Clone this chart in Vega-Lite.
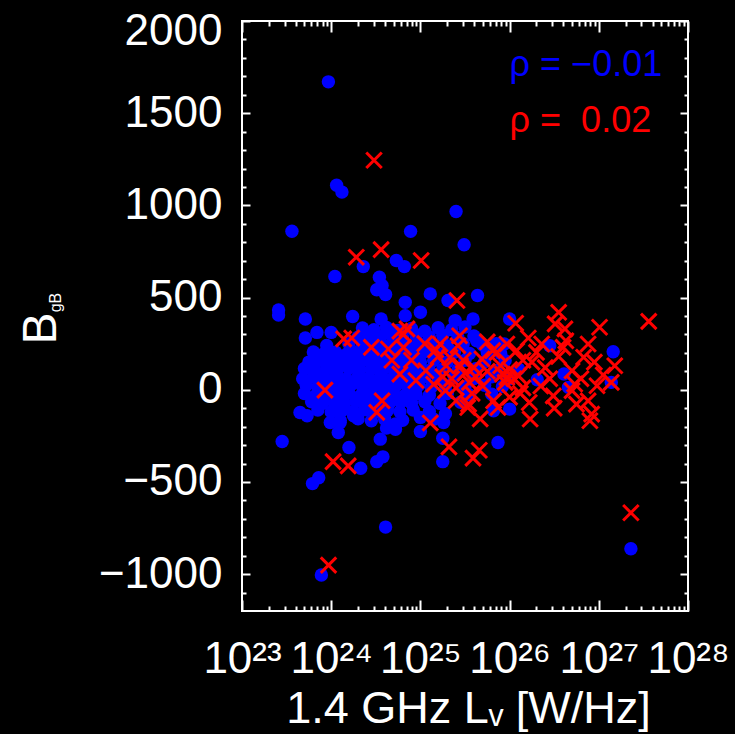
{
"$schema": "https://vega.github.io/schema/vega-lite/v6.json",
"width": 446,
"height": 590,
"autosize": {"type": "none"},
"padding": {"left": 242, "top": 21, "right": 47, "bottom": 123},
"background": "#000000",
"config": {
  "view": {"stroke": "#ffffff", "strokeWidth": 2},
  "axis": {"domain": false, "grid": false, "labelColor": "#ffffff", "tickColor": "#ffffff", "titleColor": "#ffffff", "tickWidth": 2, "labelFont": "Liberation Sans", "titleFont": "Liberation Sans", "titleFontWeight": "normal", "zindex": 1}
},
"datasets": {
  "blue": [
    {"L":9.3e23,"B":1670},{"L":1.15e24,"B":1109},{"L":1.32e24,"B":1072},{"L":3.63e23,"B":860},{"L":7.76e24,"B":859},{"L":2.51e25,"B":967},{"L":3.09e25,"B":786},{"L":5.37e24,"B":701},{"L":6.61e24,"B":668},{"L":2.29e24,"B":668},{"L":1.1e24,"B":614},{"L":3.47e24,"B":610},{"L":3.72e24,"B":565},{"L":3.24e24,"B":542},{"L":4.07e24,"B":516},{"L":2.57e23,"B":433},{"L":2.57e23,"B":405},{"L":5.13e23,"B":384},{"L":5.13e23,"B":281},{"L":6.92e23,"B":311},{"L":1.0e24,"B":311},{"L":1.74e24,"B":397},{"L":3.63e24,"B":384},{"L":6.76e24,"B":474},{"L":6.76e24,"B":402},{"L":1.0e25,"B":420},{"L":1.29e25,"B":520},{"L":2.04e25,"B":484},{"L":4.37e25,"B":511},{"L":2.45e25,"B":375},{"L":3.89e25,"B":384},{"L":4.47e23,"B":-123},{"L":5.37e23,"B":-141},{"L":9.77e23,"B":-178},{"L":1.78e24,"B":-141},{"L":5.25e24,"B":-186},{"L":1.0e25,"B":-150},{"L":1.45e27,"B":206},{"L":1.38e27,"B":40},{"L":4.07e26,"B":85},{"L":4.57e26,"B":13},{"L":2.04e26,"B":54},{"L":1.0e26,"B":-105},{"L":1.0e26,"B":384},{"L":8.71e25,"B":248},{"L":2.82e26,"B":239},{"L":4.27e25,"B":266},{"L":1.82e25,"B":-178},{"L":6.61e25,"B":-114},{"L":2.82e23,"B":-281},{"L":6.17e23,"B":-509},{"L":7.24e23,"B":-477},{"L":1.58e24,"B":-313},{"L":2.14e24,"B":-426},{"L":3.24e24,"B":-390},{"L":3.8e24,"B":-364},{"L":3.55e24,"B":-268},{"L":4.17e24,"B":-208},{"L":5.25e24,"B":-214},{"L":1.0e25,"B":-226},{"L":1.78e25,"B":-263},{"L":1.78e25,"B":-390},{"L":7.41e25,"B":-286},{"L":1.2e24,"B":-232},{"L":1.26e24,"B":-178},{"L":4.07e24,"B":-745},{"L":7.76e23,"B":-1005},{"L":2.29e27,"B":-862},{"L":1.86e24,"B":-1240},{"L":1.91e25,"B":-130},
    {"L":2.24e24,"B":335},{"L":3.02e24,"B":325},{"L":4.17e24,"B":338},{"L":5.62e24,"B":322},{"L":7.94e24,"B":332},{"L":1.12e25,"B":318},{"L":1.58e25,"B":336},{"L":2.24e25,"B":326},{"L":3.16e25,"B":340},
    {"L":2.0e24,"B":285},{"L":2.63e24,"B":296},{"L":3.55e24,"B":288},{"L":4.79e24,"B":292},{"L":6.31e24,"B":283},{"L":8.91e24,"B":297},{"L":1.26e25,"B":287},{"L":1.78e25,"B":294},{"L":2.63e25,"B":284},{"L":3.98e25,"B":292},
    {"L":8.91e23,"B":240},{"L":1.58e24,"B":250},{"L":2.24e24,"B":243},{"L":2.95e24,"B":252},{"L":3.98e24,"B":238},{"L":5.25e24,"B":247},{"L":7.08e24,"B":241},{"L":9.55e24,"B":252},{"L":1.32e25,"B":244},{"L":2.0e25,"B":238},{"L":3.02e25,"B":250},{"L":5.01e25,"B":243},{"L":7.08e25,"B":250},
    {"L":6.31e23,"B":205},{"L":8.32e23,"B":196},{"L":1.12e24,"B":203},{"L":1.51e24,"B":195},{"L":2.0e24,"B":206},{"L":2.63e24,"B":198},{"L":3.55e24,"B":204},{"L":4.68e24,"B":194},{"L":6.31e24,"B":202},{"L":8.32e24,"B":197},{"L":1.12e25,"B":206},{"L":1.58e25,"B":195},{"L":2.4e25,"B":203},{"L":3.55e25,"B":197},{"L":5.62e25,"B":205},{"L":7.94e25,"B":196},
    {"L":5.62e23,"B":150},{"L":7.59e23,"B":160},{"L":1.0e24,"B":152},{"L":1.32e24,"B":158},{"L":1.78e24,"B":150},{"L":2.34e24,"B":161},{"L":3.16e24,"B":153},{"L":4.17e24,"B":157},{"L":5.62e24,"B":149},{"L":7.59e24,"B":160},{"L":1.0e25,"B":151},{"L":1.41e25,"B":158},{"L":2.0e25,"B":150},{"L":3.16e25,"B":160},{"L":5.25e25,"B":152},{"L":8.91e25,"B":158},
    {"L":5.01e23,"B":115},{"L":6.61e23,"B":105},{"L":8.91e23,"B":112},{"L":1.17e24,"B":104},{"L":1.58e24,"B":116},{"L":2.09e24,"B":108},{"L":2.82e24,"B":113},{"L":3.72e24,"B":103},{"L":5.01e24,"B":111},{"L":6.76e24,"B":106},{"L":8.91e24,"B":115},{"L":1.26e25,"B":104},{"L":1.78e25,"B":112},{"L":2.63e25,"B":108},{"L":4.17e25,"B":114},{"L":7.08e25,"B":105},{"L":1.26e26,"B":112},
    {"L":4.79e23,"B":60},{"L":6.31e23,"B":70},{"L":8.32e23,"B":62},{"L":1.12e24,"B":68},{"L":1.48e24,"B":59},{"L":2.0e24,"B":71},{"L":2.63e24,"B":63},{"L":3.55e24,"B":67},{"L":4.79e24,"B":60},{"L":6.31e24,"B":69},{"L":8.51e24,"B":61},{"L":1.12e25,"B":70},{"L":1.58e25,"B":62},{"L":2.4e25,"B":68},{"L":3.98e25,"B":61},{"L":6.31e25,"B":70},{"L":1.0e26,"B":60},
    {"L":5.25e23,"B":25},{"L":7.08e23,"B":15},{"L":9.55e23,"B":22},{"L":1.26e24,"B":14},{"L":1.66e24,"B":26},{"L":2.24e24,"B":18},{"L":3.02e24,"B":23},{"L":3.98e24,"B":13},{"L":5.37e24,"B":24},{"L":7.24e24,"B":16},{"L":9.55e24,"B":25},{"L":1.32e25,"B":14},{"L":1.91e25,"B":22},{"L":3.16e25,"B":16},{"L":5.25e25,"B":24},{"L":8.32e25,"B":18},
    {"L":5.01e23,"B":-20},{"L":6.76e23,"B":-30},{"L":8.91e23,"B":-22},{"L":1.2e24,"B":-28},{"L":1.58e24,"B":-19},{"L":2.14e24,"B":-31},{"L":2.82e24,"B":-24},{"L":3.8e24,"B":-27},{"L":5.01e24,"B":-20},{"L":6.76e24,"B":-29},{"L":8.91e24,"B":-23},{"L":1.26e25,"B":-30},{"L":2.0e25,"B":-21},{"L":3.55e25,"B":-28},{"L":6.31e25,"B":-24},
    {"L":6.03e23,"B":-65},{"L":7.94e23,"B":-75},{"L":1.07e24,"B":-68},{"L":1.41e24,"B":-74},{"L":1.91e24,"B":-64},{"L":2.51e24,"B":-72},{"L":3.31e24,"B":-66},{"L":4.47e24,"B":-75},{"L":6.03e24,"B":-67},{"L":7.94e24,"B":-73},{"L":1.12e25,"B":-65},{"L":1.66e25,"B":-74},{"L":2.82e25,"B":-68},
    {"L":7.08e23,"B":-110},{"L":1.0e24,"B":-120},{"L":1.32e24,"B":-112},{"L":1.78e24,"B":-118},{"L":2.4e24,"B":-109},{"L":3.16e24,"B":-121},{"L":4.27e24,"B":-113},{"L":5.89e24,"B":-119},{"L":8.32e24,"B":-110},{"L":1.26e25,"B":-118},
    {"L":1.26e24,"B":-165},{"L":2.0e24,"B":-158},{"L":2.82e24,"B":-168},{"L":3.98e24,"B":-160},{"L":6.31e24,"B":-166},{"L":1.41e25,"B":-160}
  ],
  "red": [
    {"L":9.33e23,"B":-951},{"L":1.05e24,"B":-390},{"L":1.55e24,"B":-413},{"L":3.02e24,"B":1245},{"L":1.91e24,"B":719},{"L":3.63e24,"B":760},{"L":1.02e25,"B":701},{"L":2.57e25,"B":484},{"L":7.08e24,"B":330},{"L":5.89e24,"B":318},{"L":6.46e24,"B":300},{"L":1.38e24,"B":276},{"L":1.7e24,"B":281},{"L":4.37e24,"B":221},{"L":6.46e24,"B":230},{"L":1.48e25,"B":216},{"L":2.75e25,"B":293},{"L":2.63e25,"B":239},{"L":5.89e24,"B":85},{"L":1.15e25,"B":103},{"L":1.95e25,"B":130},{"L":8.51e23,"B":-2},{"L":3.72e24,"B":-60},{"L":3.24e24,"B":-123},{"L":1.29e25,"B":-180},{"L":1.91e25,"B":-5},{"L":4.68e25,"B":-158},{"L":3.39e25,"B":-96},{"L":6.46e25,"B":212},
    {"L":3.55e26,"B":420},{"L":3.24e26,"B":357},{"L":4.17e26,"B":330},{"L":4.27e26,"B":266},{"L":1.02e27,"B":339},{"L":3.63e27,"B":371},{"L":1.17e26,"B":361},{"L":1.62e26,"B":281},{"L":2.29e26,"B":248},{"L":2.0e26,"B":203},{"L":7.59e26,"B":248},{"L":6.76e26,"B":176},{"L":1.51e27,"B":130},{"L":1.38e27,"B":40},{"L":9.55e26,"B":22},{"L":5.01e26,"B":103},{"L":5.37e26,"B":31},{"L":5.01e26,"B":-5},{"L":7.59e26,"B":-60},{"L":8.32e26,"B":-132},{"L":5.62e26,"B":-78},{"L":3.09e26,"B":-33},{"L":1.66e26,"B":-69},{"L":1.7e26,"B":-159},{"L":7.41e25,"B":-96},{"L":3.47e25,"B":-78},{"L":6.61e25,"B":-60},
    {"L":9.33e25,"B":67},{"L":8.32e25,"B":85},{"L":1.12e26,"B":60},{"L":8.91e25,"B":40},{"L":1.0e26,"B":110},{"L":1.26e26,"B":75},{"L":7.24e25,"B":203},{"L":4.9e25,"B":167},{"L":9.33e25,"B":248},{"L":1.2e26,"B":212},{"L":1.66e25,"B":248},{"L":2.09e25,"B":-310},{"L":3.89e25,"B":-371},{"L":4.57e25,"B":-328},{"L":2.29e27,"B":-667},{"L":7.94e26,"B":-168},
    {"L":2.24e25,"B":60},{"L":2.82e25,"B":130},{"L":3.16e25,"B":90},{"L":3.55e25,"B":40},{"L":2.51e25,"B":10},{"L":3.98e25,"B":120},{"L":3.02e25,"B":160},{"L":4.17e25,"B":70},{"L":5.01e25,"B":20},{"L":5.62e25,"B":100},{"L":2.14e25,"B":175},{"L":1.78e25,"B":70},{"L":3.8e25,"B":-20},
    {"L":4.79e24,"B":160},{"L":8.91e24,"B":50},{"L":1.41e25,"B":30},{"L":2.82e24,"B":230},
    {"L":1.78e26,"B":150},{"L":2.51e26,"B":120},{"L":3.55e26,"B":180},{"L":2.82e26,"B":60},{"L":2.24e26,"B":20},{"L":3.98e26,"B":230},{"L":1.41e26,"B":10},{"L":3.16e26,"B":-100},
    {"L":1.12e27,"B":80},{"L":8.91e26,"B":150},{"L":6.31e26,"B":60},{"L":1.32e26,"B":-20},
    {"L":7.94e25,"B":130},{"L":1.41e26,"B":160},{"L":5.62e25,"B":260},{"L":1.0e26,"B":-40},{"L":2.51e25,"B":-60},{"L":1.58e25,"B":180},{"L":1.12e25,"B":250},{"L":7.94e24,"B":160}
  ],
  "rhoBlue": [{"L":1.0e26,"B":1700,"label":"ρ = −0.01"}],
  "rhoRed": [{"L":1.0e26,"B":1400,"label":"ρ = \u00a00.02"}]
},
"layer": [
  {
    "data": {"name": "blue"},
    "mark": {"type": "circle", "size": 180, "color": "#0000ff", "opacity": 1, "clip": true},
    "encoding": {
      "x": {"field": "L", "type": "quantitative",
        "scale": {"type": "log", "domain": [1e23, 1e28], "nice": false},
        "axis": {"orient": "bottom", "values": [1e23, 1e24, 1e25, 1e26, 1e27, 1e28], "tickSize": -11,
          "labelExpr": "'10' + ['²³','²⁴','²⁵','²⁶','²⁷','²⁸'][round(log(datum.value)/LN10) - 23]",
          "labelFontSize": 44, "labelPadding": 72, "labelBaseline": "alphabetic", "labelFlush": false, "labelOverlap": false, "labelBound": false,
          "title": "1.4 GHz Lᵥ [W/Hz]", "titleFontSize": 45, "titleX": 226, "titleY": 111, "titleBaseline": "alphabetic", "titleAlign": "center"}},
      "y": {"field": "B", "type": "quantitative",
        "scale": {"domain": [-1200, 2000], "nice": false, "zero": false},
        "axis": {"orient": "left", "values": [-1000, -500, 0, 500, 1000, 1500, 2000], "tickSize": -8, "format": "d",
          "labelFontSize": 44, "labelPadding": 28, "labelFlush": true, "labelFlushOffset": 12, "labelOverlap": false, "labelBound": false,
          "title": "B", "titleFontSize": 48, "titleAngle": -90, "titleX": -187, "titleY": 307, "titleBaseline": "alphabetic", "titleAlign": "center"}}
    }
  },
  {
    "data": {"name": "red"},
    "mark": {"type": "point", "shape": "M-1,-1L1,1M-1,1L1,-1", "filled": false, "color": "#ff0000", "stroke": "#ff0000", "strokeWidth": 3, "size": 240, "opacity": 1, "clip": true},
    "encoding": {
      "x": {"field": "L", "type": "quantitative",
        "scale": {"type": "log", "domain": [1e23, 1e28], "nice": false},
        "axis": {"orient": "bottom", "values": [2e23,3e23,4e23,5e23,6e23,7e23,8e23,9e23,2e24,3e24,4e24,5e24,6e24,7e24,8e24,9e24,2e25,3e25,4e25,5e25,6e25,7e25,8e25,9e25,2e26,3e26,4e26,5e26,6e26,7e26,8e26,9e26,2e27,3e27,4e27,5e27,6e27,7e27,8e27,9e27], "tickSize": -5, "labels": false, "title": null}},
      "y": {"field": "B", "type": "quantitative",
        "scale": {"domain": [-1200, 2000], "nice": false, "zero": false},
        "axis": {"orient": "left", "values": [-1100,-900,-800,-700,-600,-400,-300,-200,-100,100,200,300,400,600,700,800,900,1100,1200,1300,1400,1600,1700,1800,1900], "tickSize": -4, "labels": false,
          "title": "gB", "titleFontSize": 16, "titleAngle": -90, "titleX": -182, "titleY": 281, "titleBaseline": "alphabetic", "titleAlign": "center"}}
    }
  },
  {
    "data": {"name": "rhoBlue"},
    "mark": {"type": "text", "align": "left", "baseline": "alphabetic", "fontSize": 36, "font": "Liberation Sans", "color": "#0000ff"},
    "encoding": {
      "x": {"field": "L", "type": "quantitative",
        "scale": {"type": "log", "domain": [1e23, 1e28], "nice": false},
        "axis": {"orient": "top", "values": [1e23, 1e24, 1e25, 1e26, 1e27, 1e28], "tickSize": -11, "labels": false, "title": null}},
      "y": {"field": "B", "type": "quantitative",
        "scale": {"domain": [-1200, 2000], "nice": false, "zero": false},
        "axis": {"orient": "right", "values": [-1000, -500, 0, 500, 1000, 1500, 2000], "tickSize": -8, "labels": false, "title": null}},
      "text": {"field": "label"}
    }
  },
  {
    "data": {"name": "rhoRed"},
    "mark": {"type": "text", "align": "left", "baseline": "alphabetic", "fontSize": 36, "font": "Liberation Sans", "color": "#ff0000"},
    "encoding": {
      "x": {"field": "L", "type": "quantitative",
        "scale": {"type": "log", "domain": [1e23, 1e28], "nice": false},
        "axis": {"orient": "top", "values": [2e23,3e23,4e23,5e23,6e23,7e23,8e23,9e23,2e24,3e24,4e24,5e24,6e24,7e24,8e24,9e24,2e25,3e25,4e25,5e25,6e25,7e25,8e25,9e25,2e26,3e26,4e26,5e26,6e26,7e26,8e26,9e26,2e27,3e27,4e27,5e27,6e27,7e27,8e27,9e27], "tickSize": -5, "labels": false, "title": null}},
      "y": {"field": "B", "type": "quantitative",
        "scale": {"domain": [-1200, 2000], "nice": false, "zero": false},
        "axis": {"orient": "right", "values": [-1100,-900,-800,-700,-600,-400,-300,-200,-100,100,200,300,400,600,700,800,900,1100,1200,1300,1400,1600,1700,1800,1900], "tickSize": -4, "labels": false, "title": null}},
      "text": {"field": "label"}
    }
  }
],
"resolve": {"axis": {"x": "independent", "y": "independent"}}
}
